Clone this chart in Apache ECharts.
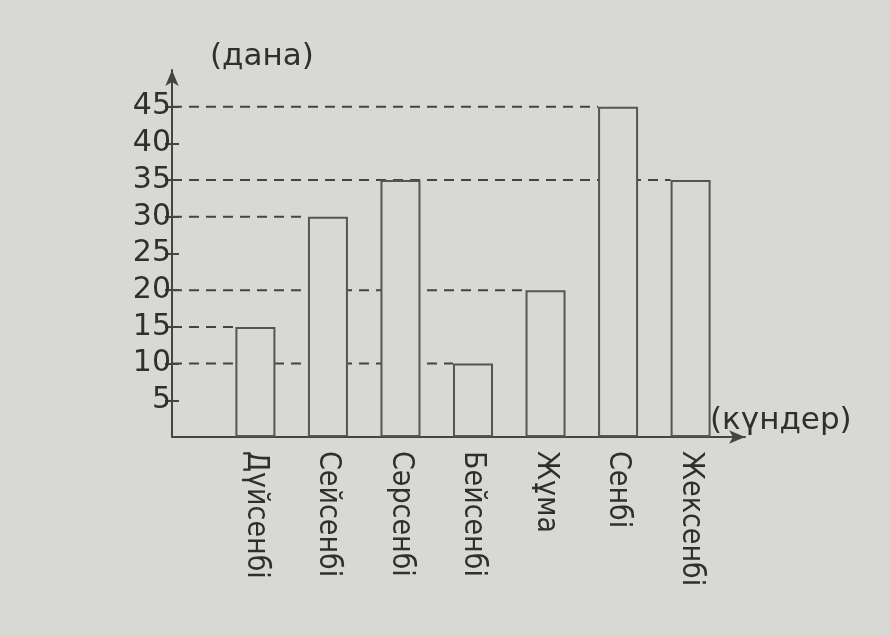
<!DOCTYPE html>
<html>
<head>
<meta charset="UTF-8">
<title>Күндер бойынша</title>
<script type="text/javascript" src="https://cdn.jsdelivr.net/npm/echarts@6/dist/echarts.min.js"></script>
<style>
	html, body { margin: 0; padding: 0; background: #d8d8d5; }
</style>
</head>

<body>
	<div id="chartmain" style="width: 890px; height: 636px;"></div>
</body>
<script type="text/javascript">
	// апта күндері мен мәндері
	var days = ['Дүйсенбі', 'Сейсенбі', 'Сәрсенбі', 'Бейсенбі', 'Жұма', 'Сенбі', 'Жексенбі'];
	var counts = [15, 30, 35, 10, 20, 45, 35];
	var yTicks = [5, 10, 15, 20, 25, 30, 35, 40, 45];

	var bg = '#d8d8d5';
	var ink = '#444';
	var txt = '#2f2f2f';
	var barW = 40;

	// бағаналар x = 1..7 орнында
	var barData = days.map(function (d, i) { return [i + 1, counts[i]]; });
	var positions = days.map(function (d, i) { return i + 1; });

	var myChart = echarts.init(document.getElementById('chartmain'));
	myChart.setOption({
		backgroundColor : bg,
		animation : false,
		grid : { left : 172, right : 145, top : 70, bottom : 199 },
		xAxis : {
			type : 'value',
			min : -0.15,
			max : 7.75,
			name : '(күндер)',
			nameLocation : 'end',
			nameGap : -35,
			nameTextStyle : {
				fontFamily : 'DejaVu Sans', fontSize : 31, color : txt,
				align : 'left', verticalAlign : 'bottom', lineHeight : 32
			},
			axisLine : {
				lineStyle : { color : ink, width : 2 },
				symbol : ['none', 'arrow'], symbolSize : [10, 16]
			},
			axisTick : { show : false },
			splitLine : { show : false },
			axisLabel : {
				customValues : positions,
				rotate : -90,
				margin : 14,
				fontFamily : 'Liberation Sans Narrow, DejaVu Sans Condensed, sans-serif',
				fontSize : 30,
				color : txt,
				formatter : function (v) { return days[Math.round(v) - 1] || ''; }
			}
		},
		yAxis : [{
			type : 'value',
			min : 0, max : 50, interval : 5,
			name : '(дана)',
			nameLocation : 'end',
			nameGap : -2,
			nameTextStyle : {
				fontFamily : 'DejaVu Sans', fontSize : 31, color : txt,
				align : 'left', padding : [0, 0, 0, 38]
			},
			axisLine : {
				show : true,
				onZero : false,
				lineStyle : { color : ink, width : 2 },
				symbol : ['none', 'arrow'], symbolSize : [10, 16]
			},
			axisTick : { show : true, customValues : yTicks, length : 7, lineStyle : { color : ink, width : 2 } },
			splitLine : { show : false },
			axisLabel : {
				customValues : yTicks,
				margin : 1,
				fontFamily : 'DejaVu Sans', fontSize : 30, color : txt
			}
		}, {
			type : 'value',
			position : 'left',
			min : 0, max : 50, interval : 5,
			axisLine : { show : false, onZero : false },
			axisTick : { show : true, inside : true, customValues : yTicks, length : 7, lineStyle : { color : ink, width : 2 } },
			axisLabel : { show : false },
			splitLine : { show : false }
		}],
		series : [{
			// үзік сызықтар: осьтен бағананың сол жақ шетіне дейін
			type : 'custom',
			z : 1,
			silent : true,
			data : barData,
			renderItem : function (params, api) {
				var p = api.coord([api.value(0), api.value(1)]);
				return {
					type : 'line',
					shape : { x1 : params.coordSys.x, y1 : p[1], x2 : p[0] - barW / 2, y2 : p[1] },
					style : { stroke : ink, lineWidth : 2, lineDash : [10, 7] }
				};
			}
		}, {
			name : 'дана',
			type : 'bar',
			z : 3,
			barWidth : barW,
			data : barData,
			itemStyle : { color : bg, borderColor : '#555', borderWidth : 2 }
		}]
	});
</script>
</html>
